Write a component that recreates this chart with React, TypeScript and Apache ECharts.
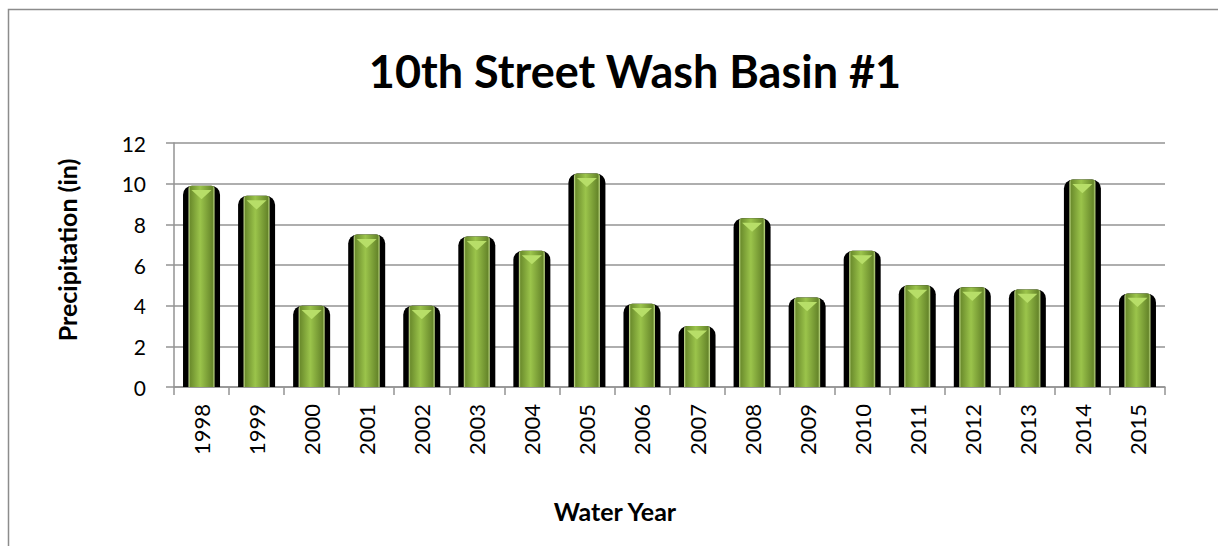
import React, { useEffect, useRef } from "react";
import * as echarts from "echarts";

const years = ["1998","1999","2000","2001","2002","2003","2004","2005","2006","2007","2008","2009","2010","2011","2012","2013","2014","2015"];
const precipitation = [9.9, 9.4, 4.0, 7.5, 4.0, 7.4, 6.7, 10.5, 4.1, 3.0, 8.3, 4.4, 6.7, 5.0, 4.9, 4.8, 10.2, 4.6];
const yTicks = { min: 0, max: 12, interval: 2 };
const titleText = "10th Street Wash Basin #1";
const xTitle = "Water Year";
const yTitle = "Precipitation (in)";

export default function App() {
  const ref = useRef<HTMLDivElement>(null);
  useEffect(() => {
    const chart = echarts.init(ref.current!, null, { renderer: "svg" });
    const font = "Lato, 'Noto Sans', sans-serif";
    const gray = "#939393";
    const xAxisBase = {
      type: "category",
      data: years,
    };
    chart.setOption({
      animation: false,
      backgroundColor: "#ffffff",
      graphic: [
        {
          type: "rect",
          shape: { x: 8.5, y: 9.5, width: 1400, height: 700 },
          style: { fill: "none", stroke: "#8c8c8c", lineWidth: 1.5 },
          silent: true,
          z: -10,
        },
        {
          type: "text",
          x: 635,
          y: 71,
          style: {
            text: titleText,
            fontFamily: font,
            fontSize: 45,
            fontWeight: "bold",
            fill: "#000",
            align: "center",
            verticalAlign: "middle",
          },
        },
        {
          type: "text",
          x: 615,
          y: 511,
          style: {
            text: xTitle,
            fontFamily: font,
            fontSize: 25,
            fontWeight: "bold",
            fill: "#000",
            align: "center",
            verticalAlign: "middle",
          },
        },
        {
          type: "text",
          x: 67,
          y: 250,
          rotation: Math.PI / 2,
          style: {
            text: yTitle,
            fontFamily: font,
            fontSize: 25,
            fontWeight: "bold",
            fill: "#000",
            align: "center",
            verticalAlign: "middle",
          },
        },
      ],
      grid: { left: 174, right: 53, top: 143, bottom: 159 },
      xAxis: [
        {
          ...xAxisBase,
          axisLine: { lineStyle: { color: gray, width: 1.5 } },
          axisTick: { show: true, alignWithLabel: false, length: 8, lineStyle: { color: gray, width: 1.5 } },
          axisLabel: { rotate: 90, fontFamily: font, fontSize: 22, color: "#000", margin: 17 },
        },
        {
          ...xAxisBase,
          position: "bottom",
          show: false,
        },
      ],
      yAxis: {
        type: "value",
        min: yTicks.min,
        max: yTicks.max,
        interval: yTicks.interval,
        axisLine: { show: true, lineStyle: { color: gray, width: 1.5 } },
        axisTick: { show: true, length: 8, lineStyle: { color: gray, width: 1.5 } },
        axisLabel: { fontFamily: font, fontSize: 21, color: "#000", margin: 28 },
        splitLine: { lineStyle: { color: gray, width: 1.5 } },
      },
      series: [
        {
          type: "bar",
          xAxisIndex: 1,
          data: precipitation,
          barWidth: 37,
          itemStyle: { color: "#000", borderRadius: [9, 9, 0, 0] },
          z: 1,
        },
        {
          type: "bar",
          xAxisIndex: 0,
          data: precipitation,
          barWidth: 26,
          itemStyle: {
            color: new echarts.graphic.LinearGradient(0, 0, 1, 0, [
              { offset: 0, color: "#d5ecA0" },
              { offset: 0.07, color: "#6c8d2d" },
              { offset: 0.45, color: "#9bc44b" },
              { offset: 0.92, color: "#66862a" },
              { offset: 1, color: "#c9e58f" },
            ]),
            borderRadius: [3, 3, 0, 0],
          },
          z: 2,
        },
        {
          type: "pictorialBar",
          xAxisIndex: 0,
          data: precipitation,
          symbol: "path://M0,0 L20,0 L10,9 Z",
          symbolSize: [20, 9],
          symbolPosition: "end",
          symbolOffset: [0, "50%"],
          itemStyle: { color: "#b7de68" },
          z: 3,
        },
      ],
    });
    return () => chart.dispose();
  }, []);
  return <div ref={ref} style={{ position: "fixed", left: 0, top: 0, width: 1218, height: 546 }} />;
}
